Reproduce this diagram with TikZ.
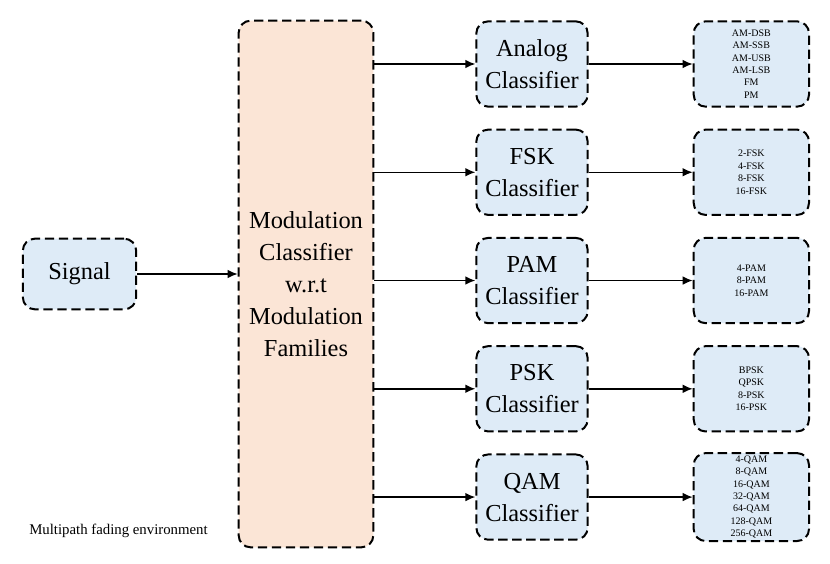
\documentclass[tikz,border=0pt]{standalone}
\usepackage{fontspec}
\setmainfont{Liberation Serif}
\usetikzlibrary{arrows.meta, positioning}
\definecolor{boxblue}{RGB}{222,235,247}
\definecolor{boxpeach}{RGB}{251,229,214}

\begin{document}
\begin{tikzpicture}[x=0.75pt, y=-0.75pt, node distance=15.7pt and 76pt,
		blk/.style={draw=black, fill=boxblue, line width=1.5pt, dash pattern=on 7pt off 3.5pt,
		            rounded corners=9pt, align=center, inner sep=2pt},
		big/.style={blk, font=\fontsize{18.3}{24}\selectfont},
		cls/.style={big, minimum width=83.5pt, minimum height=64pt},
		res/.style={blk, minimum width=86.5pt, minimum height=64pt,
		            font=\fontsize{7.5}{9.3}\selectfont},
		arr/.style={-{Latex[length=7.5pt, width=6.5pt]}, line width=1.1pt}]
		\useasboundingbox (0,0) rectangle (830,563);
		\node[big, minimum width=85pt, minimum height=53pt] (sig) at (79.5,274) {Signal};
		\node[big, fill=boxpeach, minimum width=101pt, minimum height=395pt] (mod) at (306,284)
		     {Modulation\\Classifier\\w.r.t\\Modulation\\Families};
		\node[cls] (ana) at (532,64) {Analog\\Classifier};
		\node[cls, below=of ana] (fsk) {FSK\\Classifier};
		\node[cls, below=of fsk] (pam) {PAM\\Classifier};
		\node[cls, below=of pam] (psk) {PSK\\Classifier};
		\node[cls, below=of psk] (qam) {QAM\\Classifier};
		\node[res, right=78pt of ana] (anaout) {AM-DSB\\AM-SSB\\AM-USB\\AM-LSB\\FM\\PM};
		\node[res, right=78pt of fsk] (fskout) {2-FSK\\4-FSK\\8-FSK\\16-FSK};
		\node[res, right=78pt of pam] (pamout) {4-PAM\\8-PAM\\16-PAM};
		\node[res, right=78pt of psk] (pskout) {BPSK\\QPSK\\8-PSK\\16-PSK};
		\node[res, right=78pt of qam] (qamout) {4-QAM\\8-QAM\\16-QAM\\32-QAM\\64-QAM\\128-QAM\\256-QAM};
		\node[font=\fontsize{11.1}{13}\selectfont] (env) at (118.5,531) {Multipath fading environment};
		\draw[arr] (sig) -- (sig -| mod.west);
		\draw[arr] (ana -| mod.east) -- (ana);
		\draw[arr] (fsk -| mod.east) -- (fsk);
		\draw[arr] (pam -| mod.east) -- (pam);
		\draw[arr] (psk -| mod.east) -- (psk);
		\draw[arr] (qam -| mod.east) -- (qam);
		\draw[arr] (ana) -- (anaout);
		\draw[arr] (fsk) -- (fskout);
		\draw[arr] (pam) -- (pamout);
		\draw[arr] (psk) -- (pskout);
		\draw[arr] (qam) -- (qamout);
	\end{tikzpicture}
\end{document}
